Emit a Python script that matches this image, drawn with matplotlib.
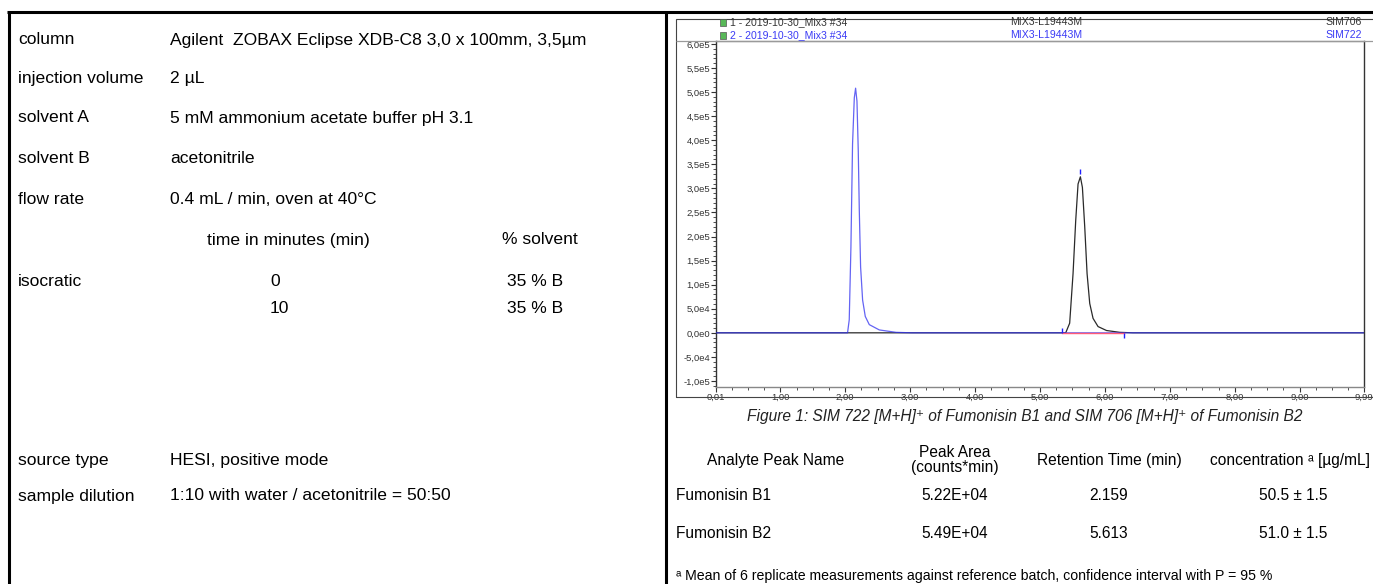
import matplotlib
matplotlib.use("Agg")
import matplotlib.pyplot as plt
from matplotlib.lines import Line2D
from matplotlib.patches import Rectangle
from matplotlib.ticker import FixedLocator, FixedFormatter, MultipleLocator

W, H = 1373, 584
FONT = ["Liberation Sans", "DejaVu Sans"]

# ---------------- left panel: method parameters ----------------
param_labels = ["column", "injection volume", "solvent A", "solvent B", "flow rate"]
param_values = ["Agilent  ZOBAX Eclipse XDB-C8 3,0 x 100mm, 3,5µm", "2 µL",
                "5 mM ammonium acetate buffer pH 3.1", "acetonitrile",
                "0.4 mL / min, oven at 40°C"]
gradient_header = ["time in minutes (min)", "% solvent"]
gradient_mode = "isocratic"
gradient_time = ["0", "10"]
gradient_solvent = ["35 % B", "35 % B"]
source_labels = ["source type", "sample dilution"]
source_values = ["HESI, positive mode", "1:10 with water / acetonitrile = 50:50"]

# ---------------- chromatogram traces ----------------
# trace 2: SIM722 (Fumonisin B1), blue
sim722_time = [0.01, 2.00, 2.036, 2.062, 2.088, 2.113, 2.140, 2.160, 2.181, 2.201,
               2.217, 2.237, 2.268, 2.309, 2.371, 2.525, 2.783, 3.03, 9.99]
sim722_counts = [0, 0, 0, 2.7e4, 1.78e5, 3.92e5, 4.88e5, 5.08e5, 4.81e5, 3.78e5,
                 2.54e5, 1.37e5, 6.8e4, 3.4e4, 1.7e4, 6.0e3, 1.0e3, 0, 0]
# trace 1: SIM706 (Fumonisin B2), black
sim706_time = [0.01, 5.396, 5.457, 5.509, 5.550, 5.586, 5.622, 5.653, 5.689, 5.725,
               5.766, 5.817, 5.894, 6.024, 6.229, 6.43, 9.99]
sim706_counts = [0, 0, 2.0e4, 1.23e5, 2.33e5, 3.09e5, 3.24e5, 3.02e5, 2.20e5, 1.23e5,
                 6.1e4, 3.0e4, 1.3e4, 4.8e3, 1.0e3, 0, 0]
# integration marks of the SIM706 peak
int_start, int_end = 5.339, 6.295
int_start_mark = [0, 1.1e4]
int_end_mark = [0, -1.1e4]
apex_time = 5.622
apex_mark = [3.29e5, 3.40e5]

x_ticks = [0.01, 1, 2, 3, 4, 5, 6, 7, 8, 9, 9.99]
x_tick_labels = ["0,01", "1,00", "2,00", "3,00", "4,00", "5,00", "6,00", "7,00",
                 "8,00", "9,00", "9,99"]
y_ticks = [6e5, 5.5e5, 5e5, 4.5e5, 4e5, 3.5e5, 3e5, 2.5e5, 2e5, 1.5e5, 1e5, 5e4, 0,
           -5e4, -1e5]
y_tick_labels = ["6,0e5", "5,5e5", "5,0e5", "4,5e5", "4,0e5", "3,5e5", "3,0e5",
                 "2,5e5", "2,0e5", "1,5e5", "1,0e5", "5,0e4", "0,0e0", "-5,0e4",
                 "-1,0e5"]
trace_ids = ["1 - 2019-10-30_Mix3 #34", "2 - 2019-10-30_Mix3 #34"]
trace_samples = ["MIX3-L19443M", "MIX3-L19443M"]
trace_channels = ["SIM706", "SIM722"]
trace_colors = ["#333333", "#3b3bf5"]

# ---------------- results table ----------------
caption = "Figure 1: SIM 722 [M+H]\u207a of Fumonisin B1 and SIM 706 [M+H]\u207a of Fumonisin B2"
table_columns = ["Analyte Peak Name", "Peak Area\n(counts*min)", "Retention Time (min)",
                 "concentration \u1d43 [µg/mL]"]
analytes = ["Fumonisin B1", "Fumonisin B2"]
peak_area = ["5.22E+04", "5.49E+04"]
retention_time = ["2.159", "5.613"]
concentration = ["50.5 ± 1.5", "51.0 ± 1.5"]
footnote = "\u1d43 Mean of 6 replicate measurements against reference batch, confidence interval with P = 95 %"

# =================================================================
fig = plt.figure(figsize=(W / 100, H / 100), dpi=100)
fig.patch.set_facecolor("white")


def fx(x):
    return x / W


def fy(y):
    return 1 - y / H


def txt(x, y, s, size=12.6, ha="left", **kw):
    fig.text(fx(x), fy(y), s, fontsize=size, ha=ha, va="center", family=FONT, **kw)


def line(x0, y0, x1, y1, lw=2.2, color="black"):
    fig.add_artist(Line2D([fx(x0), fx(x1)], [fy(y0), fy(y1)], transform=fig.transFigure,
                          lw=lw, color=color, solid_capstyle="butt"))


# frame lines of the document table
line(7, 12, W, 12)
line(8.5, 11, 8.5, H)
line(665.5, 11, 665.5, H)

# left panel
row_y = [40, 78, 118, 158, 199]
for yy, lab, val in zip(row_y, param_labels, param_values):
    txt(18, yy, lab)
    txt(170, yy, val)
txt(207, 240, gradient_header[0])
txt(502, 240, gradient_header[1])
txt(18, 281, gradient_mode)
for yy, t, s in zip([281, 309], gradient_time, gradient_solvent):
    txt(270, yy, t)
    txt(507, yy, s)
for yy, lab, val in zip([460, 496], source_labels, source_values):
    txt(18, yy, lab)
    txt(170, yy, val)

# chromatogram outer box
fig.add_artist(Rectangle((fx(676), fy(397)), fx(W + 5) - fx(676), fy(19) - fy(397),
                         transform=fig.transFigure, fill=False, lw=0.8,
                         edgecolor="#444444"))
line(676, 40.5, W, 40.5, lw=0.9, color="#9a9a9a")

# header lines
for yy, tid, smp, ch, col in zip([22, 35], trace_ids, trace_samples, trace_channels,
                                 trace_colors):
    fig.add_artist(Rectangle((fx(720), fy(yy + 3.5)), 6 / W, 7 / H,
                             transform=fig.transFigure, facecolor="#58b858",
                             edgecolor="#555555", lw=0.5))
    txt(730, yy, tid, size=7.6, color=col)
    txt(1010, yy, smp, size=7.6, color=col)
    txt(1362, yy, ch, size=7.6, color=col, ha="right")

ax = fig.add_axes([fx(716), fy(387), fx(1364) - fx(716), fy(40.5) - fy(387)])
ax.plot(sim706_time, sim706_counts, color="#2a2a2a", lw=0.9, zorder=3)
ax.plot(sim722_time, sim722_counts, color="#3030f0", lw=0.9, alpha=0.75, zorder=4)
ax.plot([int_start, int_end], [0, 0], color="#ff5a78", lw=1.0, zorder=5)
ax.vlines([int_start], int_start_mark[0], int_start_mark[1], color="#2020ff", lw=1.0, zorder=6)
ax.vlines([int_end], int_end_mark[0], int_end_mark[1], color="#2020ff", lw=1.0, zorder=6)
ax.vlines([apex_time], apex_mark[0], apex_mark[1], color="#2020ff", lw=1.0, zorder=6)

ax.set_xlim(0.01, 9.99)
ax.set_ylim(-1.125e5, 6.07e5)
ax.xaxis.set_major_locator(FixedLocator(x_ticks))
ax.xaxis.set_major_formatter(FixedFormatter(x_tick_labels))
ax.xaxis.set_minor_locator(MultipleLocator(0.25))
ax.yaxis.set_major_locator(FixedLocator(y_ticks))
ax.yaxis.set_major_formatter(FixedFormatter(y_tick_labels))
ax.yaxis.set_minor_locator(MultipleLocator(1e4))
ax.tick_params(axis="both", which="major", direction="out", length=3.5, width=0.8,
               labelsize=6.8, colors="#333333", pad=0.6)
ax.tick_params(axis="both", which="minor", direction="out", length=2, width=0.6,
               colors="#333333")
for lab in ax.get_xticklabels() + ax.get_yticklabels():
    lab.set_family(FONT)
ax.spines["left"].set_color("#333333")
ax.spines["bottom"].set_color("#888888")
ax.spines["top"].set_color("#999999")
ax.spines["right"].set_color("#333333")
for sp in ax.spines.values():
    sp.set_linewidth(1.0)

# caption and results table
txt(1025, 416, caption, size=11.2, ha="center", style="italic", color="#222222")
col_x = [776, 955, 1109, 1290]
for cx, head in zip(col_x, table_columns):
    txt(cx, 460, head, size=11.2, ha="center", linespacing=1.0)
for yy, name, area, rt, conc in zip([495, 533], analytes, peak_area, retention_time,
                                    concentration):
    txt(676, yy, name, size=11.2)
    txt(col_x[1], yy, area, size=11.2, ha="center")
    txt(col_x[2], yy, rt, size=11.2, ha="center")
    txt(1293, yy, conc, size=11.2, ha="center")
txt(676, 576, footnote, size=10.2)

fig.savefig("out.png", dpi=100)
